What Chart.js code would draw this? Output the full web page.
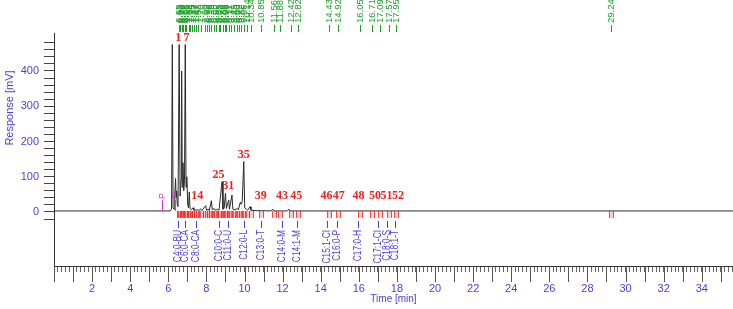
<!DOCTYPE html>
<html>
<head>
<meta charset="utf-8">
<script src="https://cdn.jsdelivr.net/npm/chart.js@4"></script>
<style>
  html, body { margin: 0; padding: 0; background: #fff; }
  canvas { display: block; }
</style>
</head>
<body>
<canvas id="myChart" width="733" height="309"></canvas>
<script>
// chromatogram trace: time [min] and response [mV]
var times = [0, 6.1, 6.17, 6.21, 6.25, 6.3, 6.34, 6.38, 6.41, 6.44, 6.47, 6.51, 6.57, 6.62, 6.67, 6.70, 6.73, 6.77, 6.81, 6.85,
    6.89, 6.93, 6.97, 7.02, 7.06, 7.10, 7.14, 7.22, 7.3, 7.34, 7.5, 7.62, 7.7, 7.76, 7.96, 8.01, 8.1, 8.15, 8.26, 8.31,
    8.42, 8.47, 8.58, 8.66, 8.82, 8.87, 8.93, 9.0, 9.05, 9.17, 9.21, 9.34, 9.39, 9.5, 9.62, 9.68, 9.78, 9.83, 9.88, 9.96,
    10.01, 10.1, 10.16, 10.29, 10.34, 10.5, 11.4, 11.48, 11.54, 12.25, 12.32, 12.38, 35.7];
var response = [3, 3, 8, 475, 12, 8, 50, 95, 40, 60, 20, 15, 475, 45, 90, 400, 70, 140, 60, 90,
    475, 70, 100, 20, 12, 57, 10, 7, 12, 5, 6, 5, 9, 4, 18, 5, 8, 4, 32, 6,
    10, 5, 8, 5, 86, 8, 10, 53, 10, 34, 8, 48, 8, 6, 10, 6, 28, 22, 30, 143,
    12, 8, 5, 15, 5, 4, 3, 8, 3, 3, 8, 3, 3];

// retention times printed along the top
var retTimes = [6.55, 6.63, 6.70, 6.77, 6.88, 6.95, 7.08, 7.14, 7.25, 7.37, 7.47, 7.58, 7.70, 7.90, 8.03, 8.16,
    8.25, 8.38, 8.52, 8.65, 8.73, 8.85, 8.98, 9.05, 9.17, 9.31, 9.45, 9.60, 9.72, 9.82, 9.96, 10.14, 10.34,
    10.85, 11.56, 11.88, 12.42, 12.82, 14.43, 14.92, 16.05, 16.71, 17.09, 17.57, 17.95, 29.24];

// peak numbers
var peakNumbers = ['1', '7', '14', '25', '31', '35', '39', '43', '45', '46', '47', '48', '50', '51', '52'];
var peakTimes = [6.52, 6.95, 7.52, 8.64, 9.14, 9.96, 10.85, 11.97, 12.72, 14.3, 14.95, 15.98, 16.85, 17.45, 18.05];
var peakHeights = [475, 475, 7, 86, 53, 143, 4, 6, 5, 3, 3, 3, 3, 3, 3];

// compound names
var compounds = ['C4:0-BU', 'C6:0-CA', 'C8:0-CA', 'C10:0-C', 'C11:0-U', 'C12:0-L', 'C13:0-T', 'C14:0-M', 'C14:1-M',
    'C15:1-CI', 'C16:0-P', 'C17:0-H', 'C17:1-CI', 'C18:0-S', 'C18:1-T'];
var compoundTimes = [6.52, 6.88, 7.47, 8.64, 9.14, 9.96, 10.85, 11.95, 12.73, 14.35, 14.88, 15.98, 17.0, 17.48, 17.88];

// "P" events
var eventTimes = [5.66, 6.33];

var yTicks = [];
for (var v = -20; v <= 480; v += 20) yTicks.push(v);
var xTicks = [];
for (var i = 0; i <= 178; i++) xTicks.push(Math.round(i * 2) / 10);

var blue = '#4a3fd4';
var sans = '"Liberation Sans", Arial, sans-serif';

var extras = {
    id: 'extras',
    afterDraw: function(chart) {
        var ctx = chart.ctx, xs = chart.scales.x, ys = chart.scales.y, area = chart.chartArea;
        var base = ys.getPixelForValue(3);
        ctx.save();

        // longer ruler ticks on whole minutes
        ctx.strokeStyle = '#555';
        ctx.lineWidth = 1;
        for (var m = 0; m <= 35; m++) {
            var px = Math.round(xs.getPixelForValue(m)) + 0.5;
            ctx.beginPath();
            ctx.moveTo(px, area.bottom);
            ctx.lineTo(px, area.bottom + 16);
            ctx.stroke();
        }

        // integration markers
        retTimes.forEach(function(t) {
            var px = Math.round(xs.getPixelForValue(t));
            ctx.fillStyle = 'rgba(255,110,110,0.35)';
            ctx.fillRect(px - 1, base, 3, 7);
            ctx.strokeStyle = 'rgba(240,40,40,0.85)';
            ctx.beginPath();
            ctx.moveTo(px - 1.5, base); ctx.lineTo(px - 1.5, base + 7);
            ctx.moveTo(px + 2.5, base); ctx.lineTo(px + 2.5, base + 7);
            ctx.stroke();
        });

        // retention time labels (top)
        ctx.strokeStyle = ctx.fillStyle = '#1f9f2a';
        ctx.font = '9.5px ' + sans;
        retTimes.forEach(function(t) {
            var px = Math.round(xs.getPixelForValue(t)) + 0.5;
            ctx.beginPath();
            ctx.moveTo(px, area.top - 1);
            ctx.lineTo(px, area.top - 8);
            ctx.stroke();
            ctx.save();
            ctx.translate(px, area.top - 10);
            ctx.rotate(-Math.PI / 2);
            ctx.textAlign = 'left';
            ctx.textBaseline = 'middle';
            ctx.fillText(t.toFixed(2), 0, 0);
            ctx.restore();
        });

        // compound names (below baseline)
        ctx.strokeStyle = ctx.fillStyle = blue;
        ctx.font = '10px ' + sans;
        compoundTimes.forEach(function(t, k) {
            var px = Math.round(xs.getPixelForValue(t)) + 0.5;
            ctx.beginPath();
            ctx.moveTo(px, base + 10);
            ctx.lineTo(px, base + 17);
            ctx.stroke();
            ctx.save();
            ctx.translate(px, base + 19);
            ctx.rotate(-Math.PI / 2);
            ctx.scale(0.84, 1);
            ctx.textAlign = 'right';
            ctx.textBaseline = 'middle';
            ctx.fillText(compounds[k], 0, 0);
            ctx.restore();
        });

        // peak numbers
        ctx.fillStyle = '#ee2222';
        ctx.font = 'bold 12px "Liberation Serif", "Times New Roman", serif';
        ctx.textAlign = 'center';
        ctx.textBaseline = 'middle';
        peakTimes.forEach(function(t, k) {
            var py = ys.getPixelForValue(Math.max(peakHeights[k], 25) + 20);
            ctx.fillText(peakNumbers[k], xs.getPixelForValue(t), py);
        });

        // events
        ctx.strokeStyle = ctx.fillStyle = '#e030e0';
        ctx.font = '9px ' + sans;
        eventTimes.forEach(function(t) {
            var px = Math.round(xs.getPixelForValue(t)) + 0.5;
            ctx.beginPath();
            ctx.moveTo(px, base);
            ctx.lineTo(px, base - 11);
            ctx.stroke();
            ctx.save();
            ctx.translate(px, base - 12);
            ctx.rotate(-Math.PI / 2);
            ctx.textAlign = 'left';
            ctx.textBaseline = 'middle';
            ctx.fillText('P', 0, 0);
            ctx.restore();
        });

        // y axis title
        ctx.fillStyle = blue;
        ctx.font = '11px ' + sans;
        ctx.translate(10, 108);
        ctx.rotate(-Math.PI / 2);
        ctx.textAlign = 'center';
        ctx.textBaseline = 'middle';
        ctx.fillText('Response [mV]', 0, 0);
        ctx.restore();
    }
};

var ctx = document.getElementById('myChart').getContext('2d');
var chart = new Chart(ctx, {
    type: 'line',
    data: {
        datasets: [{
            data: times.map(function(t, k) { return { x: t, y: response[k] }; }),
            borderColor: '#2a2a2a',
            borderWidth: 1,
            pointRadius: 0,
            tension: 0
        }]
    },
    options: {
        responsive: false,
        animation: false,
        devicePixelRatio: 1,
        layout: { padding: { top: 33, right: 0, left: 0, bottom: 0 } },
        plugins: { legend: { display: false }, tooltip: { enabled: false } },
        scales: {
            x: {
                type: 'linear',
                min: 0,
                max: 35.64,
                afterFit: function(s) { s.height = 43; s.paddingLeft = 0; s.paddingRight = 0; },
                afterBuildTicks: function(s) { s.ticks = xTicks.map(function(v) { return { value: v }; }); },
                grid: { drawOnChartArea: false, tickLength: 6, color: '#666' },
                border: { color: '#333' },
                ticks: {
                    autoSkip: false,
                    maxRotation: 0,
                    padding: 10,
                    color: blue,
                    font: { size: 11, family: sans },
                    callback: function(v) {
                        return (Math.abs(v - Math.round(v)) < 0.01 && Math.round(v) % 2 === 0 && v > 0) ? String(Math.round(v)) : '';
                    }
                },
                title: { display: true, text: 'Time [min]', color: blue, font: { size: 10, family: sans }, padding: { top: 0, bottom: 4 } }
            },
            y: {
                min: -153.2,
                max: 507.8,
                afterFit: function(s) { s.width = 54; },
                afterBuildTicks: function(s) { s.ticks = yTicks.map(function(v) { return { value: v }; }); },
                grid: { drawOnChartArea: false, tickLength: 10, color: '#444' },
                border: { color: '#333' },
                ticks: {
                    autoSkip: false,
                    padding: 5,
                    color: blue,
                    font: { size: 11, family: sans },
                    callback: function(v) { return (v >= 0 && v % 100 === 0) ? String(v) : ''; }
                }
            }
        }
    },
    plugins: [extras]
});
</script>
</body>
</html>
